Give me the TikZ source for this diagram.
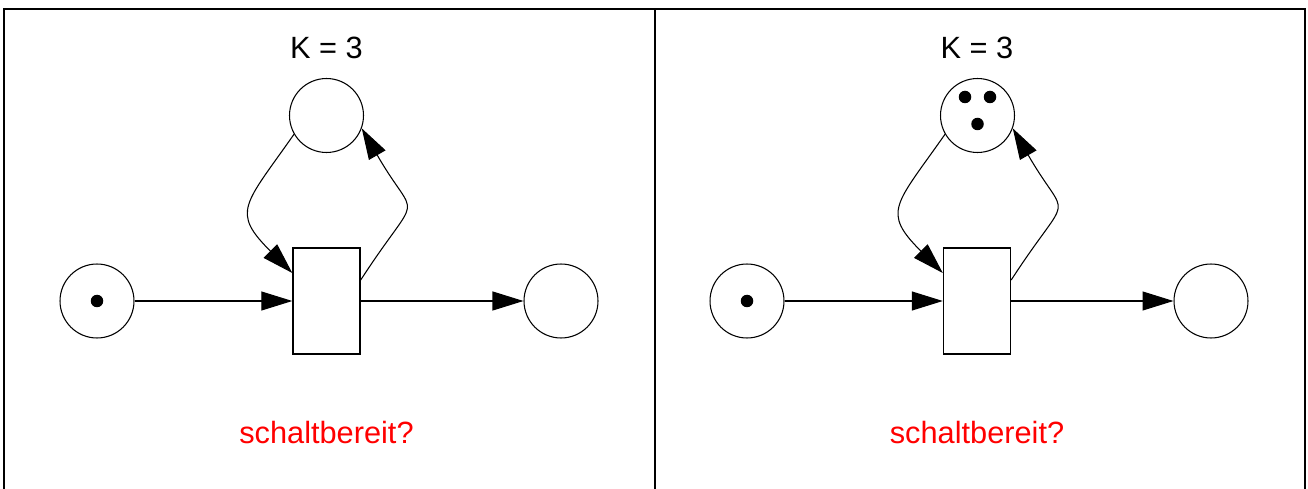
\documentclass[tikz,border=0pt]{standalone}
\usepackage{fontspec}
\setmainfont{Liberation Sans}
\usetikzlibrary{arrows.meta}
\begin{document}
\begin{tikzpicture}[
    x=0.02cm, y=-0.02cm,
    font=\fontsize{17.5}{21}\selectfont,
    place/.style={circle, draw, line width=0.6pt, minimum size=1.48cm, inner sep=0pt},
    trans/.style={rectangle, draw, line width=0.8pt, minimum width=1.34cm, minimum height=2.12cm, inner sep=0pt},
    token/.style={circle, fill=black, minimum size=0.25cm, inner sep=0pt},
    arr/.style={-{Triangle[length=0.62cm, width=0.38cm]}, line width=0.6pt},
    frame/.style={line width=1.2pt},
    quest/.style={text=red}
]
\useasboundingbox (0,0) rectangle (1308,489);

% Rahmen
\draw[frame] (4,489) -- (4,9) -- (1305,9) -- (1305,489);
\draw[frame] (655,9) -- (655,489);

% linkes Netz
\node[place] (inL) at (97,301) {};
\node[token] (tokL) at (97,301) {};
\node[trans] (transL) at (326.5,301) {};
\node[place] (outL) at (561,301) {};
\node[place] (capL) at (326.5,115.5) {};
\node (kL) at (326.5,48) {K = 3};
\node[quest] (qL) at (326.5,433) {schaltbereit?};

\draw[arr] (inL) -- (transL);
\draw[arr] (transL) -- (outL);
\draw[arr] (capL.210) to[out=235, in=135, looseness=1.6] ([yshift=0.56cm]transL.west);
\draw[arr] ([yshift=0.42cm]transL.east) to[out=57, in=-60, looseness=1.9] (capL.-20);

% rechtes Netz
\node[place] (inR) at (747,301) {};
\node[token] (tokR) at (747,301) {};
\node[trans] (transR) at (977,301) {};
\node[place] (outR) at (1211,301) {};
\node[place] (capR) at (977.5,115.5) {};
\node[token] (capR1) at (965,97) {};
\node[token] (capR2) at (990,97) {};
\node[token] (capR3) at (977.5,124) {};
\node (kR) at (977,48) {K = 3};
\node[quest] (qR) at (977,433) {schaltbereit?};

\draw[arr] (inR) -- (transR);
\draw[arr] (transR) -- (outR);
\draw[arr] (capR.210) to[out=235, in=135, looseness=1.6] ([yshift=0.56cm]transR.west);
\draw[arr] ([yshift=0.42cm]transR.east) to[out=57, in=-60, looseness=1.9] (capR.-20);

\end{tikzpicture}
\end{document}
